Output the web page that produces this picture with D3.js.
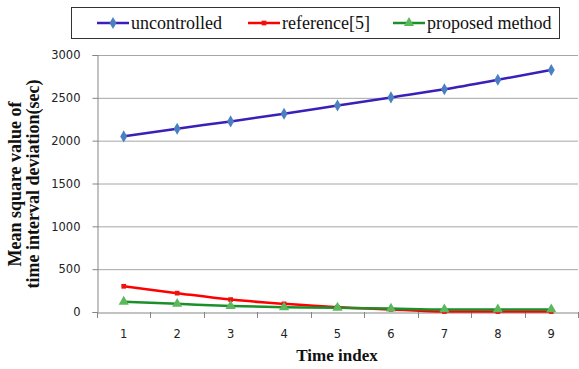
<!DOCTYPE html>
<html><head><meta charset="utf-8">
<script src="https://cdn.jsdelivr.net/npm/d3@7"></script>
<style>body{margin:0;background:#fff}svg{display:block}</style>
</head><body>
<svg id="c" width="579" height="369"></svg>
<script>
const categories = [1,2,3,4,5,6,7,8,9];
const uncontrolled = [2050,2140,2225,2315,2410,2505,2600,2710,2825];
const reference5 = [300,220,145,95,55,30,5,5,5];
const proposed = [120,95,70,55,50,40,30,30,30];
const yTicks = [0,500,1000,1500,2000,2500,3000];
const seriesNames = ["uncontrolled","reference[5]","proposed method"];

const svg = d3.select("#c");
const L=97, R=578, T=55, B=312;
const SERIF = "'Liberation Serif', 'Times New Roman', serif";
const x = d3.scaleBand().domain(categories).range([L,R]);
const y = d3.scaleLinear().domain([0,3000]).range([B,T]);

// gridlines
svg.append("g").selectAll("line").data(yTicks.filter(d=>d>0)).join("line")
  .attr("x1",L).attr("x2",R).attr("y1",d=>y(d)+0.5).attr("y2",d=>y(d)+0.5)
  .attr("stroke","#a6a6a6").attr("stroke-width",1);

// y axis
const yAxis = svg.append("g").attr("transform",`translate(${L+0.5},0)`)
  .call(d3.axisLeft(y).tickValues(yTicks).tickSize(5).tickPadding(12).tickFormat(d3.format("d")));
yAxis.select(".domain").attr("stroke","#868686");
yAxis.selectAll(".tick line").attr("stroke","#868686");
yAxis.selectAll("text").attr("font-family","DejaVu Sans, Verdana, sans-serif").attr("font-size","11.5px").attr("fill","#222");

// x axis
const xAxis = svg.append("g").attr("transform",`translate(0,${B+0.5})`)
  .call(d3.axisBottom(x).tickSize(0).tickPadding(17));
xAxis.select(".domain").attr("stroke","#868686");
xAxis.selectAll("text").attr("font-family","DejaVu Sans, Verdana, sans-serif").attr("font-size","11.5px").attr("fill","#222");
const bounds = categories.map(c=>x(c)).concat([R]);
svg.append("g").selectAll("line").data(bounds).join("line")
  .attr("x1",d=>Math.round(d)+0.5).attr("x2",d=>Math.round(d)+0.5)
  .attr("y1",B).attr("y2",B+6).attr("stroke","#868686");

const cx = d=>x(d)+x.bandwidth()/2;
const line = d3.line().x((d,i)=>cx(categories[i])).y(d=>y(d)).curve(d3.curveMonotoneX);

const series = [
  {name:seriesNames[0], data:uncontrolled, color:"#3a1fb8", mk:"#4a7fc1", sym:d3.symbolDiamond, size:42},
  {name:seriesNames[1], data:reference5, color:"#ff0000", mk:"#ee1111", sym:d3.symbolSquare, size:22},
  {name:seriesNames[2], data:proposed, color:"#1a8f2a", mk:"#5cb85c", sym:d3.symbolTriangle, size:45}
];
series.forEach(s=>{
  svg.append("path").datum(s.data).attr("d",line).attr("fill","none")
    .attr("stroke",s.color).attr("stroke-width",2.5);
  svg.append("g").selectAll("path").data(s.data).join("path")
    .attr("transform",(d,i)=>`translate(${cx(categories[i])},${y(d)})`)
    .attr("d",d3.symbol().type(s.sym).size(s.size)).attr("fill",s.mk);
});

// legend
svg.append("rect").attr("x",71.5).attr("y",7.5).attr("width",488).attr("height",31)
  .attr("fill","#fff").attr("stroke","#333").attr("stroke-width",1);
const legX=[97,248,393];
series.forEach((s,i)=>{
  const g=svg.append("g").attr("transform",`translate(${legX[i]},23)`);
  g.append("line").attr("x1",0).attr("x2",32).attr("stroke",s.color).attr("stroke-width",2.5);
  g.append("path").attr("transform","translate(16,0)").attr("d",d3.symbol().type(s.sym).size(s.size)).attr("fill",s.mk);
  g.append("text").attr("x",34).attr("y",5.5).text(s.name)
    .attr("font-family",SERIF).attr("font-size","18px").attr("fill","#111");
});

// axis titles
svg.append("text").attr("x",337).attr("y",361).attr("text-anchor","middle")
  .attr("font-family",SERIF).attr("font-weight","bold")
  .attr("font-size","17px").attr("fill","#111").text("Time index");
const yt = svg.append("text").attr("transform","translate(0,184) rotate(-90)")
  .attr("text-anchor","middle").attr("font-family",SERIF)
  .attr("font-weight","bold").attr("font-size","18px").attr("fill","#111");
yt.append("tspan").attr("x",0).attr("y",21).text("Mean square value of");
yt.append("tspan").attr("x",0).attr("y",39).text("time interval deviation(sec)");
</script>
</body></html>
